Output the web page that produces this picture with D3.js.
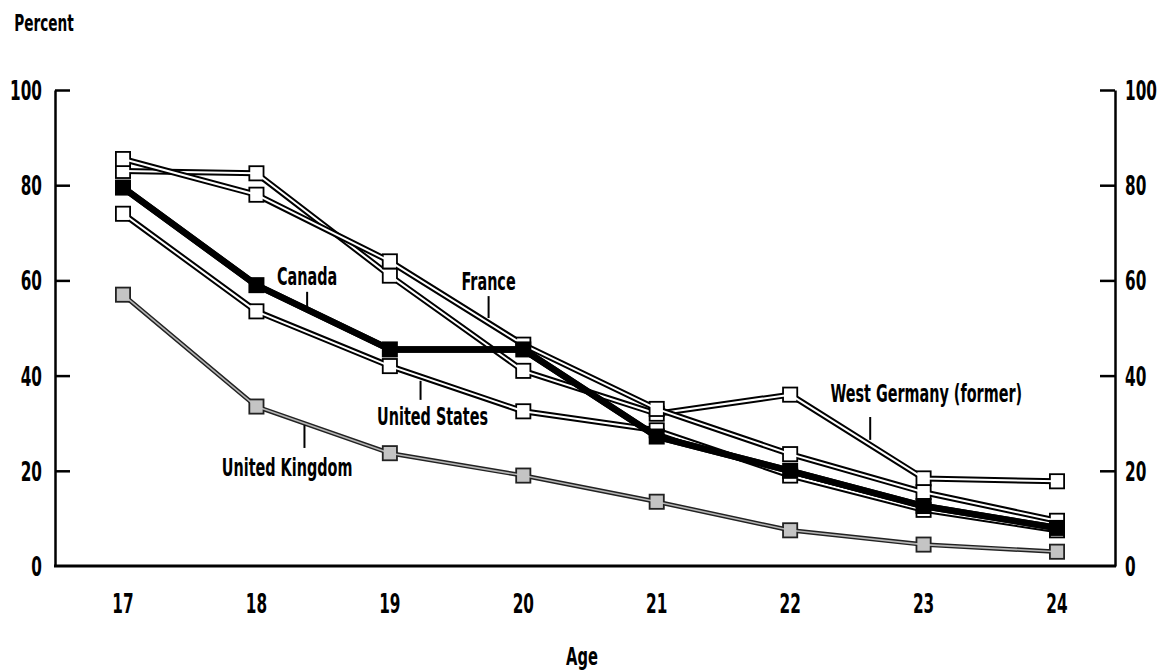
<!DOCTYPE html>
<html>
<head>
<meta charset="utf-8">
<script src="https://cdn.jsdelivr.net/npm/d3@7"></script>
<style>
  body { margin: 0; background: #fff; }
  text { font-family: "Liberation Sans Narrow", "DejaVu Sans Condensed", sans-serif; font-weight: bold; fill: #000; }
</style>
</head>
<body>
<div id="chart"></div>
<script>
// data
var ages = [17, 18, 19, 20, 21, 22, 23, 24];
var canada = [79.5, 59, 45.5, 45.5, 27.2, 20, 12.6, 8];
var france = [85.5, 78, 64, 46.5, 33, 23.5, 15.5, 9.5];
var westGermany = [83, 82.5, 61, 41, 32, 36, 18.4, 17.8];
var unitedStates = [74, 53.5, 42, 32.5, 28.5, 19, 11.8, 7.5];
var unitedKingdom = [57, 33.5, 23.7, 19, 13.5, 7.5, 4.5, 3];
var yTicks = [0, 20, 40, 60, 80, 100];

var width = 1170, height = 672;
var plotLeft = 55, plotRight = 1115, plotBottom = 566, plotTop = 90;

var x = d3.scaleLinear().domain([17, 24]).range([123, 1057]);
var y = d3.scaleLinear().domain([0, 100]).range([plotBottom, plotTop]);

var svg = d3.select("#chart").append("svg")
    .attr("width", width)
    .attr("height", height);

// condensed text helper
function label(g, px, py, str, size, anchor, sx) {
    return g.append("text")
        .attr("transform", "translate(" + px + "," + py + ") scale(" + sx + ",1)")
        .attr("text-anchor", anchor)
        .attr("font-size", size)
        .text(str);
}

// axes
var leftAxis = svg.append("g")
    .attr("transform", "translate(" + plotLeft + ",0)")
    .call(d3.axisLeft(y).tickValues(yTicks).tickSize(-15).tickSizeOuter(0).tickFormat(""));
var rightAxis = svg.append("g")
    .attr("transform", "translate(" + plotRight + ",0)")
    .call(d3.axisRight(y).tickValues(yTicks).tickSize(-15).tickSizeOuter(0).tickFormat(""));
[leftAxis, rightAxis].forEach(function(a) {
    a.selectAll("path, line").attr("stroke", "#000").attr("stroke-width", 2.5);
    a.selectAll(".tick").filter(function(d) { return d === 0; }).remove();
});

svg.append("line")
    .attr("x1", plotLeft - 1).attr("x2", plotRight + 1)
    .attr("y1", y(0)).attr("y2", y(0))
    .attr("stroke", "#000").attr("stroke-width", 3);

var sx = 0.63;
yTicks.forEach(function(t) {
    label(svg, plotLeft - 13, y(t) + 10, t, 27, "end", sx);
    label(svg, plotRight + 10, y(t) + 10, t, 27, "start", sx);
});
ages.forEach(function(a) {
    label(svg, x(a), 613, a, 27, "middle", sx);
});
label(svg, 44, 31, "Percent", 23, "middle", 0.66);
label(svg, 582, 665, "Age", 24, "middle", 0.68);

// series
var line = d3.line()
    .x(function(d, i) { return x(ages[i]); })
    .y(function(d) { return y(d); });

var series = [
    {name: "United Kingdom", values: unitedKingdom, outline: "#222", inner: "#b5b5b5", box: "#c4c4c4", ow: 4.5, iw: 1.6},
    {name: "United States", values: unitedStates, outline: "#000", inner: "#fff", box: "#fff", ow: 6, iw: 2},
    {name: "West Germany (former)", values: westGermany, outline: "#000", inner: "#fff", box: "#fff", ow: 6, iw: 2},
    {name: "France", values: france, outline: "#000", inner: "#fff", box: "#fff", ow: 6, iw: 2},
    {name: "Canada", values: canada, outline: "#000", inner: "#000", box: "#000", ow: 6.5, iw: 6.5}
];

var sz = 16;
series.forEach(function(s) {
    var g = svg.append("g");
    g.append("path")
        .attr("d", line(s.values))
        .attr("fill", "none")
        .attr("stroke", s.outline)
        .attr("stroke-width", s.ow)
        .attr("stroke-linejoin", "round");
    g.selectAll(".box").data(s.values).enter().append("rect")
        .attr("x", function(d, i) { return x(ages[i]) - sz / 2; })
        .attr("y", function(d) { return y(d) - sz / 2; })
        .attr("width", sz).attr("height", sz)
        .attr("fill", s.outline);
    g.append("path")
        .attr("d", line(s.values))
        .attr("fill", "none")
        .attr("stroke", s.inner)
        .attr("stroke-width", s.iw)
        .attr("stroke-linejoin", "round");
    g.selectAll(".inbox").data(s.values).enter().append("rect")
        .attr("x", function(d, i) { return x(ages[i]) - sz / 2 + 1.8; })
        .attr("y", function(d) { return y(d) - sz / 2 + 1.8; })
        .attr("width", sz - 3.6).attr("height", sz - 3.6)
        .attr("fill", s.box);
});

// series labels with leader lines (age / percent coordinates)
var notes = [
    {text: "Canada", age: 18.38, val: 59, lx: 18.38, from: 57.6, to: 53.8},
    {text: "France", age: 19.74, val: 58, lx: 19.74, from: 56.7, to: 52.1},
    {text: "United States", age: 19.32, val: 29.6, lx: 19.23, from: 38.9, to: 34.9},
    {text: "United Kingdom", age: 18.23, val: 18.9, lx: 18.36, from: 29.6, to: 24.8},
    {text: "West Germany (former)", age: 23.02, val: 34.5, lx: 22.6, from: 31.3, to: 26.5}
];
notes.forEach(function(n) {
    label(svg, x(n.age), y(n.val), n.text, 25, "middle", 0.64);
    svg.append("line")
        .attr("x1", x(n.lx)).attr("x2", x(n.lx))
        .attr("y1", y(n.from)).attr("y2", y(n.to))
        .attr("stroke", "#000").attr("stroke-width", 2);
});
</script>
</body>
</html>
